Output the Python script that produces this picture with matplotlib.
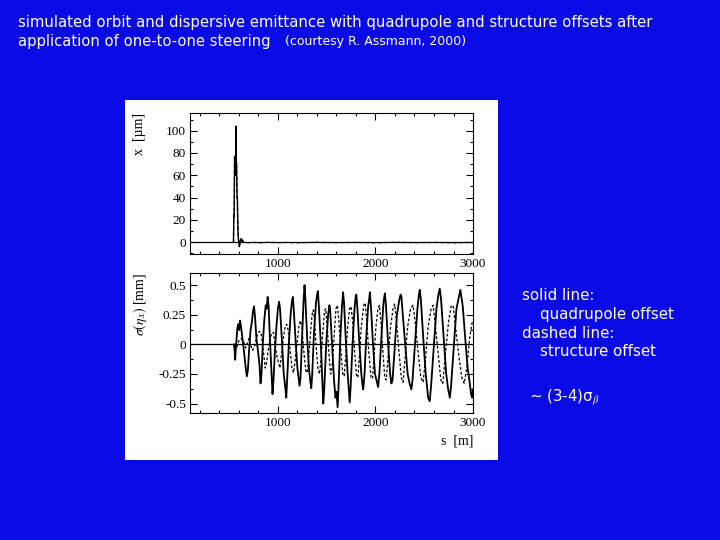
import matplotlib
matplotlib.use("Agg")
import matplotlib.pyplot as plt
from matplotlib.patches import Rectangle
from matplotlib.ticker import MultipleLocator

# ---------------- data ----------------
orbit_s = [545, 548, 552, 556, 560, 563, 566, 570, 573, 576, 579, 582, 585, 588, 592,
           596, 600, 605, 610, 615, 620, 628, 635, 645, 700, 760, 820, 900, 1000, 1100,
           1200, 1400, 1600, 1800, 2000, 2200, 2400, 2600, 2800, 3000]
orbit_x = [0, 25, 22, 77, 65, 75, 60, 104, 70, 72, 55, 40, 38, 20, 8,
           2, 0, -4, -2, 1, 3, 1, 2, 0, -0.6, -0.3, -0.6, -0.2, -0.5, -0.3,
           -0.6, -0.2, -0.5, -0.3, -0.6, -0.2, -0.5, -0.3, -0.6, -0.3]

quad_s = [549, 556, 562, 572, 585, 595, 603, 612, 622, 640, 655, 670, 682, 692, 705, 720,
          735, 745, 755, 765, 780, 795, 812, 822, 832, 845, 860, 875, 885, 895, 905, 918,
          932, 945, 955, 970, 985, 1000, 1012, 1022, 1040, 1060, 1078, 1086, 1095, 1112,
          1130, 1145, 1154, 1162, 1180, 1200, 1215, 1222, 1232, 1250, 1262, 1273, 1282,
          1300, 1320, 1335, 1342, 1352, 1370, 1390, 1402, 1410, 1420, 1440, 1455, 1465,
          1475, 1495, 1515, 1528, 1535, 1555, 1575, 1590, 1600, 1612, 1622, 1640, 1655,
          1668, 1678, 1695, 1715, 1728, 1736, 1746, 1765, 1785, 1797, 1804, 1815, 1835,
          1855, 1868, 1875, 1888, 1905, 1925, 1935, 1943, 1955, 1975, 1995, 2015, 2027,
          2040, 2060, 2080, 2090, 2097, 2108, 2130, 2150, 2163, 2175, 2195, 2220, 2245,
          2258, 2266, 2280, 2305, 2330, 2350, 2368, 2380, 2405, 2430, 2445, 2454, 2465,
          2490, 2515, 2540, 2556, 2570, 2600, 2625, 2645, 2659, 2672, 2700, 2725, 2745,
          2762, 2775, 2805, 2830, 2855, 2870, 2881, 2895, 2920, 2945, 2965, 2980, 2990, 3000]
quad_eta = [0.0, -0.05, -0.13, 0.0, 0.14, 0.17, 0.12, 0.2, 0.15, 0.03, -0.08, -0.2, -0.27,
            -0.22, -0.05, 0.12, 0.2, 0.28, 0.32, 0.24, 0.05, -0.05, -0.18, -0.33, -0.25,
            0.0, 0.2, 0.33, 0.3, 0.4, 0.32, 0.05, -0.2, -0.42, -0.3, -0.05, 0.15, 0.3,
            0.36, 0.3, 0.05, -0.25, -0.38, -0.45, -0.3, 0.0, 0.25, 0.37, 0.4, 0.3, 0.05,
            -0.2, -0.3, -0.35, -0.28, 0.1, 0.35, 0.5, 0.38, 0.05, -0.22, -0.33, -0.37,
            -0.25, 0.1, 0.35, 0.42, 0.45, 0.32, 0.0, -0.3, -0.5, -0.38, 0.0, 0.25, 0.33,
            0.3, 0.0, -0.3, -0.45, -0.4, -0.53, -0.35, 0.05, 0.3, 0.44, 0.35, 0.05, -0.25,
            -0.4, -0.49, -0.35, 0.0, 0.3, 0.4, 0.42, 0.3, 0.0, -0.25, -0.35, -0.38, -0.25,
            0.05, 0.32, 0.38, 0.44, 0.3, 0.0, -0.25, -0.32, -0.36, -0.25, 0.05, 0.33, 0.4,
            0.43, 0.32, 0.0, -0.25, -0.33, -0.3, -0.05, 0.25, 0.38, 0.42, 0.4, 0.25, 0.0,
            -0.25, -0.33, -0.38, -0.3, 0.0, 0.3, 0.42, 0.46, 0.38, 0.05, -0.25, -0.45,
            -0.48, -0.35, 0.0, 0.3, 0.42, 0.47, 0.38, 0.05, -0.25, -0.38, -0.45, -0.35,
            0.0, 0.3, 0.4, 0.46, 0.4, 0.32, 0.05, -0.2, -0.32, -0.42, -0.45, -0.38]

struct_s = [556, 575, 600, 625, 650, 670, 690, 705, 720, 740, 760, 780, 800, 815, 830, 850,
            870, 885, 900, 920, 940, 955, 970, 990, 1005, 1020, 1035, 1055, 1075, 1090, 1105,
            1125, 1145, 1160, 1175, 1195, 1215, 1230, 1245, 1265, 1285, 1300, 1315, 1335,
            1350, 1362, 1375, 1395, 1410, 1425, 1440, 1460, 1478, 1490, 1505, 1525, 1540,
            1555, 1575, 1595, 1610, 1625, 1645, 1665, 1680, 1695, 1715, 1735, 1750, 1765,
            1785, 1805, 1820, 1835, 1855, 1880, 1895, 1910, 1930, 1955, 1970, 1985, 2005,
            2025, 2040, 2055, 2075, 2095, 2110, 2130, 2155, 2180, 2197, 2215, 2240, 2265,
            2283, 2300, 2330, 2360, 2385, 2405, 2435, 2465, 2488, 2510, 2540, 2570, 2591,
            2615, 2645, 2670, 2690, 2715, 2750, 2775, 2796, 2820, 2855, 2885, 2910, 2935,
            2965, 2990, 3000]
struct_eta = [0.0, -0.03, 0.03, 0.05, 0.02, -0.03, 0.02, 0.05, 0.0, -0.05, -0.02, 0.05, 0.1,
              0.11, 0.08, -0.05, -0.2, -0.15, -0.05, 0.05, 0.1, 0.1, 0.0, -0.1, -0.15, -0.2,
              -0.1, 0.05, 0.15, 0.17, 0.12, -0.05, -0.2, -0.24, -0.15, 0.0, 0.15, 0.2, 0.15,
              -0.05, -0.22, -0.24, -0.12, 0.1, 0.25, 0.29, 0.2, -0.05, -0.2, -0.25, -0.15,
              0.1, 0.28, 0.3, 0.15, -0.1, -0.25, -0.2, 0.05, 0.3, 0.33, 0.2, -0.05, -0.25,
              -0.27, -0.1, 0.15, 0.3, 0.32, 0.2, -0.05, -0.26, -0.28, -0.1, 0.15, 0.33, 0.35,
              0.2, -0.05, -0.28, -0.29, -0.1, 0.15, 0.3, 0.33, 0.2, -0.05, -0.28, -0.3, -0.1,
              0.15, 0.3, 0.34, 0.2, -0.05, -0.28, -0.32, -0.15, 0.15, 0.3, 0.33, 0.2, -0.05,
              -0.28, -0.32, -0.15, 0.15, 0.3, 0.33, 0.15, -0.1, -0.3, -0.33, -0.1, 0.2, 0.32,
              0.33, 0.15, -0.1, -0.28, -0.33, -0.2, 0.05, 0.18, 0.2]

top_yticks = [0, 20, 40, 60, 80, 100]
bot_yticks = [-0.5, -0.25, 0, 0.25, 0.5]
bot_yticklabels = ["-0.5", "-0.25", "0", "0.25", "0.5"]
xticks = [1000, 2000, 3000]

title_line1 = "simulated orbit and dispersive emittance with quadrupole and structure offsets after"
title_line2 = "application of one-to-one steering"
courtesy = "(courtesy R. Assmann, 2000)"

# ---------------- figure ----------------
plt.rcParams['mathtext.fontset'] = 'stix'
BLUE = '#0a0ae6'
fig = plt.figure(figsize=(7.2, 5.4), dpi=100, facecolor=BLUE)

panel = Rectangle((0.174, 0.148), 0.518, 0.667, transform=fig.transFigure,
                  facecolor='white', edgecolor='none', zorder=-5)
fig.patches.append(panel)

serif = 'Liberation Serif'
ax1 = fig.add_axes([0.264, 0.530, 0.393, 0.261])
ax2 = fig.add_axes([0.264, 0.235, 0.393, 0.259])

for ax in (ax1, ax2):
    ax.set_xlim(100, 3000)
    ax.set_xticks(xticks)
    ax.xaxis.set_minor_locator(MultipleLocator(200))
    ax.tick_params(which='both', direction='in', top=True, right=True, width=0.8,
                   labelsize=9.5, pad=3)
    ax.tick_params(which='major', length=5)
    ax.tick_params(which='minor', length=2.5)
    ax.axhline(0, color='black', lw=0.9, zorder=1)
    for sp in ax.spines.values():
        sp.set_linewidth(0.8)

ax1.plot(orbit_s, orbit_x, color='black', lw=0.9, linestyle=(0, (3, 2)), zorder=2)
ax1.plot(orbit_s[:24], orbit_x[:24], color='black', lw=1.0, zorder=3)
ax1.set_ylim(-10.5, 116)
ax1.set_yticks(top_yticks)
ax1.yaxis.set_minor_locator(MultipleLocator(10))
for lab in ax1.get_xticklabels() + ax1.get_yticklabels():
    lab.set_fontfamily(serif)
ax1.text(-0.177, 1.0, "x  [µm]", transform=ax1.transAxes, rotation=90,
         ha='center', va='top', fontsize=10, family=serif)

ax2.plot(quad_s, quad_eta, color='black', lw=1.3, zorder=3)
ax2.plot(struct_s, struct_eta, color='black', lw=0.9, linestyle=(0, (2.2, 1.6)), zorder=2)
ax2.set_ylim(-0.58, 0.6)
ax2.set_yticks(bot_yticks)
ax2.set_yticklabels(bot_yticklabels)
ax2.yaxis.set_minor_locator(MultipleLocator(0.125))
for lab in ax2.get_xticklabels() + ax2.get_yticklabels():
    lab.set_fontfamily(serif)
ax2.text(-0.177, 1.0, r"$\sigma(\eta_x)$ [mm]", transform=ax2.transAxes, rotation=90,
         ha='center', va='top', fontsize=10, family=serif)
ax2.set_xlabel("s  [m]", loc='right', fontsize=10, family=serif, labelpad=4)

# ---------------- slide text ----------------
tfont = 'DejaVu Sans'
fig.text(18 / 720, 1 - 22 / 540, title_line1, color='white', fontsize=10.7,
         family=tfont, ha='left', va='center')
fig.text(18 / 720, 1 - 42 / 540, title_line2, color='white', fontsize=10.65,
         family=tfont, ha='left', va='center')
fig.text(285 / 720, 1 - 42 / 540, courtesy, color='white', fontsize=9.0,
         family=tfont, ha='left', va='center')

side = [("solid line:", 522, 295), ("quadrupole offset", 540, 314),
        ("dashed line:", 522, 333), ("structure offset", 540, 352)]
for txt, x, y in side:
    fig.text(x / 720, 1 - y / 540, txt, color='white', fontsize=10.8,
             family=tfont, ha='left', va='center')
fig.text(529 / 720, 1 - 398 / 540, "~ (3-4)σ$_\\beta$", color='white',
         fontsize=10.8, family=tfont, ha='left', va='center')

fig.savefig("out.png", dpi=100, facecolor=BLUE)
